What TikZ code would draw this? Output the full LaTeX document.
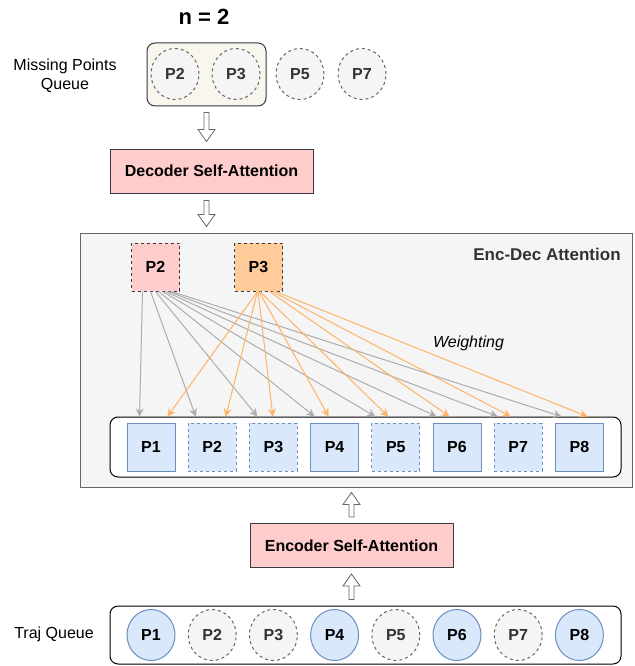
\documentclass[tikz,border=0pt]{standalone}
\usepackage{fontspec}
\setmainfont{Liberation Sans}
\usetikzlibrary{positioning,arrows.meta,calc,shapes.geometric}
\definecolor{grayfill}{HTML}{F5F5F5}
\definecolor{graydraw}{HTML}{666666}
\definecolor{graytext}{HTML}{333333}
\definecolor{bluefill}{HTML}{DAE8FC}
\definecolor{bluedraw}{HTML}{6C8EBF}
\definecolor{pinkfill}{HTML}{FFCCCC}
\definecolor{orangefill}{HTML}{FFCC99}
\definecolor{beigefill}{HTML}{F9F7ED}
\definecolor{darkdraw}{HTML}{36393D}
\definecolor{attgray}{HTML}{ADADAD}
\definecolor{attorange}{HTML}{FFB366}
\tikzset{
  grayarrow/.style={-{Stealth[length=8pt,width=8pt]}, draw=attgray},
  orangearrow/.style={-{Stealth[length=8pt,width=8pt]}, draw=attorange},
  hollowarrow/.style={draw=black!60, fill=white, line width=0.8pt, to path={
    ($(\tikztostart)!2.5pt!90:(\tikztotarget)$)
    -- ($(\tikztotarget)!12pt!(\tikztostart)!2.5pt!-90:(\tikztostart)$)
    -- ($(\tikztotarget)!12pt!(\tikztostart)!8.5pt!-90:(\tikztostart)$)
    -- (\tikztotarget)
    -- ($(\tikztotarget)!12pt!(\tikztostart)!8.5pt!90:(\tikztostart)$)
    -- ($(\tikztotarget)!12pt!(\tikztostart)!2.5pt!90:(\tikztostart)$)
    -- ($(\tikztostart)!2.5pt!-90:(\tikztotarget)$) -- cycle}},
  missingpt/.style={ellipse, draw=graydraw, dash pattern=on 3pt off 3pt, fill=grayfill, text=graytext, minimum width=48pt, minimum height=51pt, inner sep=0pt},
  knownpt/.style={ellipse, draw=bluedraw, fill=bluefill, minimum width=48pt, minimum height=51pt, inner sep=0pt},
  tokbox/.style={draw=bluedraw, fill=bluefill, minimum size=48pt, inner sep=0pt},
  tokbox2/.style={tokbox, dash pattern=on 3pt off 3pt},
  querybox/.style={draw=darkdraw, dash pattern=on 3pt off 3pt, minimum size=48pt, inner sep=0pt},
  attnbox/.style={draw=darkdraw, fill=pinkfill, minimum width=203pt, minimum height=44pt},
  queuebox/.style={draw, rounded corners=8pt, fill=white},
  encdecbox/.style={draw=graydraw, fill=grayfill, minimum width=552pt, minimum height=254pt},
  sidetext/.style={font=\fontsize{16}{19}\selectfont, align=center}
}
\begin{document}
\begin{tikzpicture}[x=1pt, y=-1pt, line width=1pt, every node/.style={font=\fontsize{16}{19}\selectfont\bfseries}]
  \useasboundingbox (0,0) rectangle (634,666);
  \node[font=\fontsize{22}{26}\selectfont\bfseries] (ntitle) at (204,17) {n = 2};
  \node[sidetext] (mqlabel) at (65,75.5) {Missing Points\\Queue};
  \node[queuebox, fill=beigefill, draw=darkdraw, minimum width=119pt, minimum height=63pt] (mq) at (206.5,74.5) {};
  \node[missingpt] (mq2) at (175,74) {P2};
  \node[missingpt] (mq3) at (236,74) {P3};
  \node[missingpt] (mq5) at (300,74) {P5};
  \node[missingpt] (mq7) at (362,74) {P7};
  \node[attnbox] (dec) at (211.5,171) {Decoder Self-Attention};
  \node[encdecbox] (encdec) at (356.5,360) {};
  \node[font=\fontsize{17}{20}\selectfont\bfseries, text=graytext] (encdectitle) at (547,254) {Enc-Dec Attention};
  \node[querybox, fill=pinkfill] (q2) at (155.5,267) {P2};
  \node[querybox, fill=orangefill] (q3) at (258.5,267) {P3};
  \node[font=\fontsize{16}{19}\selectfont\itshape] (wlabel) at (468.5,343) {Weighting};
  \node[queuebox, minimum width=511pt, minimum height=60pt] (mem) at (365.5,447) {};
  \node[tokbox] (k1) at (151,447) {P1};
  \node[tokbox2] (k2) at (212.2,447) {P2};
  \node[tokbox2] (k3) at (273.4,447) {P3};
  \node[tokbox] (k4) at (334.6,447) {P4};
  \node[tokbox2] (k5) at (395.8,447) {P5};
  \node[tokbox] (k6) at (457,447) {P6};
  \node[tokbox2] (k7) at (518.2,447) {P7};
  \node[tokbox] (k8) at (579.4,447) {P8};
  \node[attnbox] (enc) at (351.5,545.5) {Encoder Self-Attention};
  \node[sidetext] (trajlabel) at (54,634) {Traj Queue};
  \node[queuebox, minimum width=511pt, minimum height=58pt] (traj) at (365.5,635) {};
  \node[knownpt] (t1) at (151,635) {P1};
  \node[missingpt] (t2) at (212.2,635) {P2};
  \node[missingpt] (t3) at (273.4,635) {P3};
  \node[knownpt] (t4) at (334.6,635) {P4};
  \node[missingpt] (t5) at (395.8,635) {P5};
  \node[knownpt] (t6) at (457,635) {P6};
  \node[missingpt] (t7) at (518.2,635) {P7};
  \node[knownpt] (t8) at (579.4,635) {P8};
  \draw[hollowarrow] ([yshift=-6pt]mq.south) to ([yshift=7pt]mq.south |- dec.north);
  \draw[hollowarrow] ([yshift=-7pt]mq.south |- dec.south) to ([yshift=6pt]mq.south |- encdec.north);
  \draw[hollowarrow] ([yshift=6pt]traj.north -| enc.south) to ([yshift=-6pt]enc.south);
  \draw[hollowarrow] ([yshift=6pt]enc.north) to ([yshift=-5pt]enc.north |- encdec.south);
  \draw[grayarrow] ($(q2.south west)+(11.5,0)$) -- ($(k1.north west |- mem.north)+(13,0)$);
  \draw[grayarrow] ($(q2.south west)+(19.5,0)$) -- ($(k2.north west |- mem.north)+(8,0)$);
  \draw[grayarrow] ($(q2.south west)+(24.5,0)$) -- ($(k3.north west |- mem.north)+(8.5,0)$);
  \draw[grayarrow] ($(q2.south west)+(27.5,0)$) -- ($(k4.north west |- mem.north)+(4.5,0)$);
  \draw[grayarrow] ($(q2.south west)+(31.5,0)$) -- ($(k5.north west |- mem.north)+(4,0)$);
  \draw[grayarrow] ($(q2.south west)+(34.5,0)$) -- ($(k6.north west |- mem.north)+(4,0)$);
  \draw[grayarrow] ($(q2.south west)+(37.5,0)$) -- ($(k7.north west |- mem.north)+(4,0)$);
  \draw[grayarrow] ($(q2.south west)+(40.5,0)$) -- ($(k8.north west |- mem.north)+(6.5,0)$);
  \draw[orangearrow] ($(q3.south west)+(23.5,0)$) -- ($(k1.north west |- mem.north)+(41,0)$);
  \draw[orangearrow] ($(q3.south west)+(23.5,0)$) -- ($(k2.north west |- mem.north)+(38,0)$);
  \draw[orangearrow] ($(q3.south west)+(24,0)$) -- ($(k3.north west |- mem.north)+(24,0)$);
  \draw[orangearrow] ($(q3.south west)+(25,0)$) -- ($(k4.north west |- mem.north)+(18.5,0)$);
  \draw[orangearrow] ($(q3.south west)+(26,0)$) -- ($(k5.north west |- mem.north)+(17,0)$);
  \draw[orangearrow] ($(q3.south west)+(35.5,0)$) -- ($(k6.north west |- mem.north)+(17,0)$);
  \draw[orangearrow] ($(q3.south west)+(38.5,0)$) -- ($(k7.north west |- mem.north)+(17,0)$);
  \draw[orangearrow] ($(q3.south west)+(41.5,0)$) -- ($(k8.north west |- mem.north)+(32.5,0)$);
\end{tikzpicture}
\end{document}
